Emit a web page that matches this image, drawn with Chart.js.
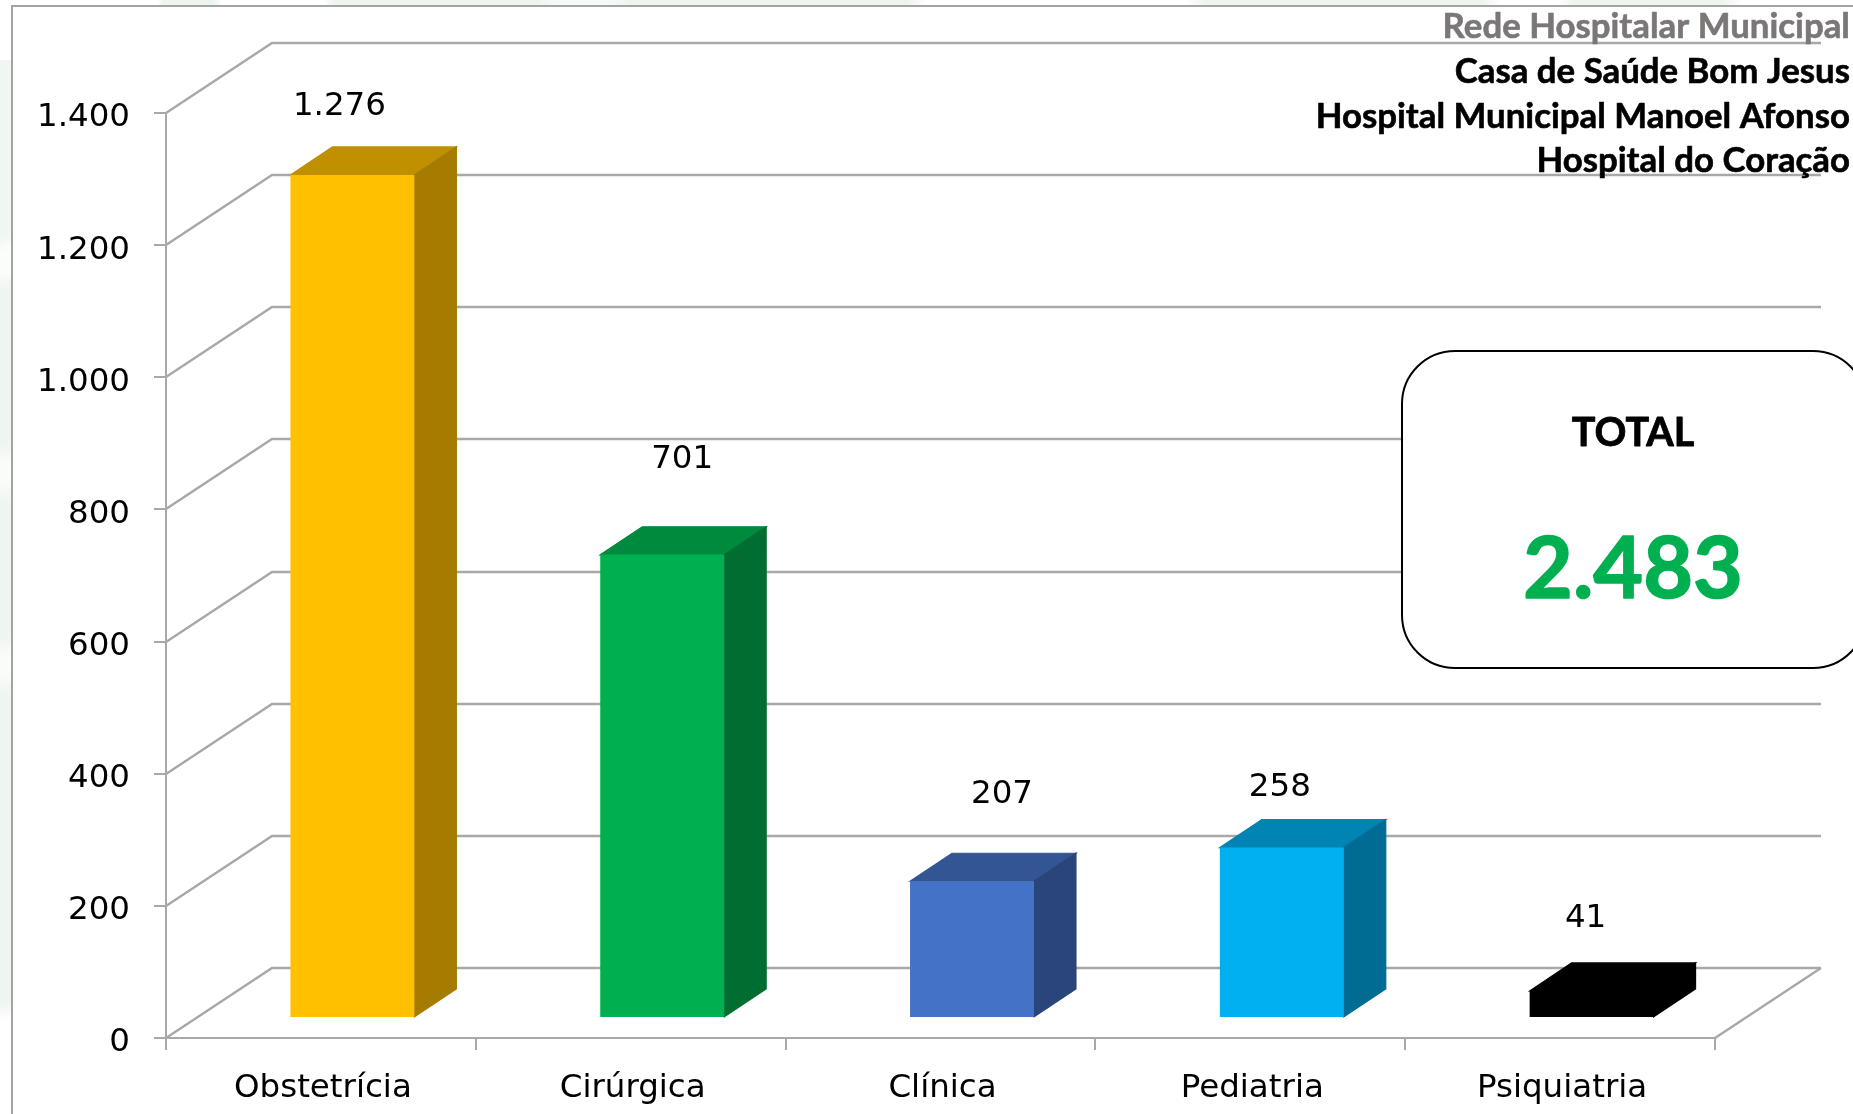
<!DOCTYPE html>
<html lang="pt">
<head>
<meta charset="utf-8">
<style>
html,body{margin:0;padding:0;background:#fff;width:1853px;height:1114px;overflow:hidden}
#strip{position:absolute;left:0;top:60px;width:11px;height:960px;background:linear-gradient(168deg,#f0f6f1 0 18%,#fbfdfb 20% 22%,#eff5f0 24% 40%,#fafcfa 42% 44%,#eff5f0 46% 60%,#fafcfa 62% 64%,#eff5f0 66% 98%,#fff 100%)}
#topstrip{position:absolute;left:0;top:0;width:1853px;height:6px;background:linear-gradient(90deg,#fff 0 8.5%,#eef5ef 8.8% 11.5%,#fff 12% 17.5%,#eef5ef 18% 29%,#f6faf6 30% 33%,#eef5ef 34% 49%,#fff 50% 64%,#eef5ef 65% 80%,#fff 81% 84%,#eef5ef 85% 93%,#fff 94%)}
#frame{position:absolute;left:11px;top:5px;width:1900px;height:1200px;border:2px solid #a3a3a3;background:#fff;box-sizing:border-box}
canvas{position:absolute;left:0;top:0}
</style>
<script src="https://cdn.jsdelivr.net/npm/chart.js@4"></script>
</head>
<body>
<div id="strip"></div><div id="topstrip"></div><div id="frame"></div>
<canvas id="c" width="1853" height="1114"></canvas>
<script>
const categories = ["Obstetrícia","Cirúrgica","Clínica","Pediatria","Psiquiatria"];
const values = [1276,701,207,258,41];
const valueLabels = ["1.276","701","207","258","41"];
const yTicks = [0,200,400,600,800,1000,1200,1400];
const frontColors = ["#FFC000","#00B050","#4472C4","#00B0F0","#000000"];
const topColors = ["#C09000","#008A3E","#335593","#0084B4","#000000"];
const sideColors = ["#A67C00","#006E31","#2A4579","#006C94","#000000"];
const networkLines = ["Rede Hospitalar Municipal","Casa de Saúde Bom Jesus","Hospital Municipal Manoel Afonso","Hospital do Coração"];
const totalTitle = "TOTAL";
const totalValue = "2.483";

const GRID = "#a8a8a8";
const FONT_AXIS = 32.5;
const WALL = {dx:106, dy:-70};        // depth of the chart floor
const BAR_SHIFT = {dx:31.5, dy:-20};  // bars sit inside the floor
const BAR_DEPTH = {dx:42, dy:-28};
const LABEL_NUDGE = [[-13,-40],[20,-67],[30,-59],[-2,-32],[-6,-44]]; // hand-placed labels, from bar's top-back edge

function poly(ctx, pts, fill){
  ctx.beginPath();
  pts.forEach((p,i)=> i?ctx.lineTo(p[0],p[1]):ctx.moveTo(p[0],p[1]));
  ctx.closePath();
  ctx.fillStyle = fill; ctx.fill();
  ctx.strokeStyle = fill; ctx.lineWidth = 1.2; ctx.stroke();
}

const depth3d = {
  id:"depth3d",
  beforeDatasetsDraw(chart){
    const {ctx, scales:{x,y}} = chart;
    const left = x.left, right = x.right;
    ctx.save();
    ctx.strokeStyle = GRID; ctx.lineWidth = 2.4; ctx.lineJoin="miter";
    yTicks.forEach(v=>{
      const py = Math.round(y.getPixelForValue(v));
      ctx.beginPath();
      ctx.moveTo(left,py);
      ctx.lineTo(left+WALL.dx,py+WALL.dy);
      ctx.lineTo(right+WALL.dx,py+WALL.dy);
      ctx.stroke();
    });
    const py0 = y.getPixelForValue(0);
    ctx.beginPath();
    ctx.moveTo(right,py0);
    ctx.lineTo(right+WALL.dx,py0+WALL.dy);
    ctx.stroke();
    ctx.restore();
  },
  beforeDatasetDraw(chart,args){
    const {ctx} = chart;
    ctx.save();
    ctx.translate(BAR_SHIFT.dx,BAR_SHIFT.dy);
    args.meta.data.forEach((b,i)=>{
      const l=b.x-b.width/2, r=b.x+b.width/2, t=b.y, bt=b.base;
      const d=BAR_DEPTH;
      poly(ctx,[[l,t],[l+d.dx,t+d.dy],[r+d.dx,t+d.dy],[r,t]],topColors[i]);
      poly(ctx,[[r,t],[r+d.dx,t+d.dy],[r+d.dx,bt+d.dy],[r,bt]],sideColors[i]);
    });
  },
  afterDatasetDraw(chart,args){
    const {ctx} = chart;
    ctx.restore();
    ctx.save();
    ctx.font = FONT_AXIS+'px "DejaVu Sans"';
    ctx.fillStyle="#000"; ctx.textAlign="center"; ctx.textBaseline="middle";
    args.meta.data.forEach((b,i)=>{
      const n=LABEL_NUDGE[i];
      ctx.fillText(valueLabels[i], b.x+BAR_SHIFT.dx+n[0], b.y+BAR_SHIFT.dy+BAR_DEPTH.dy+n[1]);
    });
    ctx.restore();
  },
  afterDatasetsDraw(chart){
    const {ctx} = chart;
    ctx.save();
    // total box
    ctx.beginPath();
    ctx.roundRect(1402,351,464,317,53);
    ctx.fillStyle="#fff"; ctx.fill();
    ctx.strokeStyle="#000"; ctx.lineWidth=2; ctx.stroke();
    ctx.textAlign="center"; ctx.textBaseline="alphabetic";
    ctx.lineJoin="round";
    ctx.fillStyle=ctx.strokeStyle="#000"; ctx.font='700 39.5px Lato'; ctx.lineWidth=0.8;
    ctx.fillText(totalTitle,1633,446); ctx.strokeText(totalTitle,1633,446);
    ctx.fillStyle=ctx.strokeStyle="#00B050"; ctx.font='700 86px Lato'; ctx.lineWidth=1.5;
    ctx.fillText(totalValue,1633,598); ctx.strokeText(totalValue,1633,598);
    // hospital list
    ctx.textAlign="right";
    ctx.font='700 34.8px Lato'; ctx.lineWidth=0.6;
    const base=[38,83,128,172];
    networkLines.forEach((t,i)=>{
      ctx.fillStyle = ctx.strokeStyle = i===0 ? "#7b7777" : "#000";
      ctx.fillText(t,1850,base[i]); ctx.strokeText(t,1850,base[i]);
    });
    ctx.restore();
  }
};

new Chart(document.getElementById("c"),{
  type:"bar",
  data:{labels:categories,datasets:[{
    data:values,
    backgroundColor:frontColors,
    borderWidth:0,
    barPercentage:0.4,
    categoryPercentage:1,
    clip:false
  }]},
  plugins:[depth3d],
  options:{
    responsive:false,
    animation:false,
    events:[],
    layout:{padding:{left:0,top:113,right:138,bottom:0}},
    plugins:{legend:{display:false},tooltip:{enabled:false},title:{display:false}},
    scales:{
      x:{
        grid:{drawOnChartArea:false,drawTicks:true,tickLength:12,color:GRID,lineWidth:2,offset:true},
        border:{display:true,color:GRID,width:2},
        ticks:{color:"#000",font:{family:"DejaVu Sans",size:FONT_AXIS},padding:19,labelOffset:2,maxRotation:0,autoSkip:false},
        afterFit(s){s.height=76;}
      },
      y:{
        min:0,max:1400,
        afterBuildTicks(s){s.ticks=yTicks.map(v=>({value:v}));},
        grid:{drawOnChartArea:false,drawTicks:true,tickLength:12,color:GRID,lineWidth:2},
        border:{display:true,color:GRID,width:2},
        ticks:{color:"#000",font:{family:"DejaVu Sans",size:FONT_AXIS},padding:24,labelOffset:5,
          callback:v=>v.toLocaleString("pt-BR")},
        afterFit(s){s.width=166;}
      }
    }
  }
});
</script>
</body>
</html>
